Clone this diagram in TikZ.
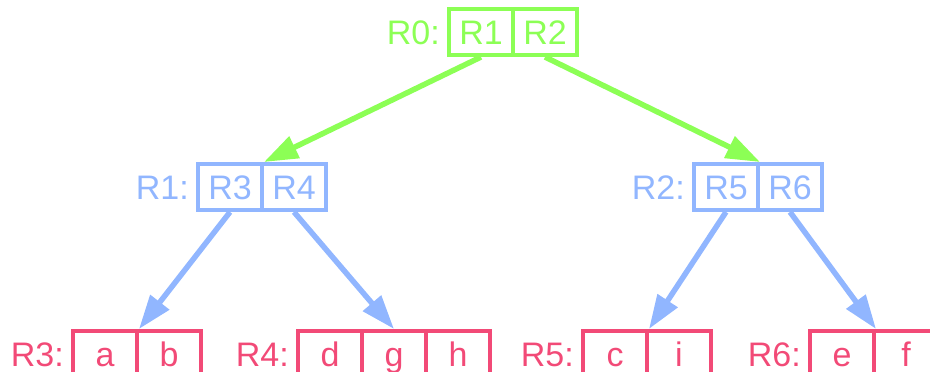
\documentclass[tikz,border=0pt]{standalone}
\usepackage{fontspec}
\setmainfont{Liberation Sans}
\usetikzlibrary{arrows.meta}
\definecolor{recgreen}{HTML}{8CFF55}
\definecolor{recblue}{HTML}{91B6FF}
\definecolor{recpink}{HTML}{F24A77}
\begin{document}
\begin{tikzpicture}[x=1pt, y=-1pt,
  cell/.style={draw, rectangle, line width=4pt, minimum width=64pt, minimum height=46pt, inner sep=0pt, text height=25pt, text depth=0pt, font=\fontsize{34}{38}\selectfont},
  rlabel/.style={anchor=east, inner sep=0pt, text height=25pt, text depth=0pt, font=\fontsize{34}{38}\selectfont},
  edge/.style={line width=5.5pt, -{Triangle[length=34pt, width=23pt]}}]
\useasboundingbox (0,0) rectangle (930,372);
\node[rlabel, recgreen] (lid0) at (440,32){R0:};
\node[cell, recgreen] (rid0a) at (481,32){R1};
\node[cell, recgreen] (rid0b) at (545,32){R2};
\node[rlabel, recblue] (lid1) at (189,187){R1:};
\node[cell, recblue] (rid1a) at (230,187){R3};
\node[cell, recblue] (rid1b) at (294,187){R4};
\node[rlabel, recblue] (lid2) at (685,187){R2:};
\node[cell, recblue] (rid2a) at (726,187){R5};
\node[cell, recblue] (rid2b) at (790,187){R6};
\draw[edge, recgreen](rid0a.south) -- (rid1a.north east);
\draw[edge, recgreen](rid0b.south) -- (rid2a.north east);
\node[rlabel, recpink] (lid3) at (64,354){R3:};
\node[cell, recpink] (rid3a) at (105,354){a};
\node[cell, recpink] (rid3b) at (169,354){b};
\node[rlabel, recpink] (lid4) at (289,354){R4:};
\node[cell, recpink] (rid4a) at (330,354){d};
\node[cell, recpink] (rid4b) at (394,354){g};
\node[cell, recpink] (rid4c) at (458,354){h};
\node[rlabel, recpink] (lid5) at (574,354){R5:};
\node[cell, recpink] (rid5a) at (615,354){c};
\node[cell, recpink] (rid5b) at (679,354){i};
\node[rlabel, recpink] (lid6) at (801,354){R6:};
\node[cell, recpink] (rid6a) at (842,354){e};
\node[cell, recpink] (rid6b) at (906,354){f};
\draw[edge, recblue](rid1a.south) -- (rid3a.north east);
\draw[edge, recblue](rid1b.south) -- (rid4b.north);
\draw[edge, recblue](rid2a.south) -- (rid5a.north east);
\draw[edge, recblue](rid2b.south) -- (rid6a.north east);
\end{tikzpicture}
\end{document}
